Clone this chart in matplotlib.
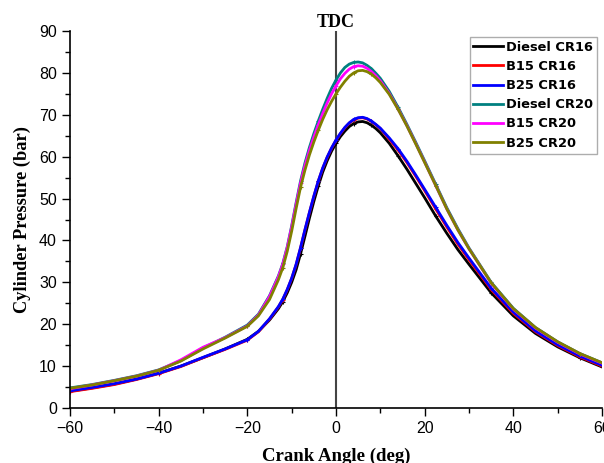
import matplotlib
matplotlib.use("Agg")
import matplotlib.pyplot as plt
from matplotlib.ticker import MultipleLocator

crank_angle = [-60, -55, -50, -45, -40, -35, -30, -25, -20, -17.5, -15, -13, -12, -11, -10, -9, -8,
               -7, -6, -5, -4, -3, -2, -1, 0, 1, 2, 3, 4, 5, 6, 7, 8, 9, 10, 12, 14, 16, 18, 20,
               22.5, 25, 27.5, 30, 35, 40, 45, 50, 55, 60]

diesel_cr16 = [4.0, 4.8, 5.7, 6.9, 8.3, 10.0, 12.0, 14.1, 16.4, 18.3, 21.0, 23.7, 25.4, 27.5, 30.0,
               33.0, 36.8, 41.0, 45.3, 49.3, 53.0, 56.3, 59.0, 61.3, 63.2, 64.8, 66.1, 67.2, 67.9,
               68.3, 68.4, 68.1, 67.5, 66.7, 65.7, 63.2, 60.2, 57.0, 53.6, 50.2, 45.8, 41.7, 37.8,
               34.3, 27.5, 22.0, 17.8, 14.6, 12.0, 9.8]
b15_cr16 = [3.9, 4.7, 5.6, 6.8, 8.2, 9.9, 12.0, 14.0, 16.2, 18.2, 21.2, 24.1, 25.9, 28.2, 30.9,
            34.2, 38.2, 42.5, 46.6, 50.5, 54.1, 57.2, 59.8, 62.0, 63.9, 65.5, 66.9, 68.0, 68.8,
            69.2, 69.3, 69.0, 68.4, 67.6, 66.7, 64.2, 61.6, 58.6, 55.3, 51.9, 47.5, 43.2, 39.1,
            35.4, 28.3, 22.6, 18.2, 14.9, 12.2, 10.0]
b25_cr16 = [4.1, 4.9, 5.8, 6.9, 8.3, 10.0, 12.1, 14.1, 16.3, 18.3, 21.3, 24.2, 26.0, 28.3, 31.0,
            34.3, 38.3, 42.6, 46.7, 50.6, 54.2, 57.3, 59.9, 62.1, 64.0, 65.6, 67.0, 68.1, 68.9,
            69.3, 69.4, 69.1, 68.5, 67.7, 66.8, 64.5, 61.9, 58.9, 55.6, 52.2, 47.9, 43.6, 39.5,
            35.8, 28.6, 22.9, 18.4, 15.1, 12.4, 10.2]
diesel_cr20 = [4.8, 5.6, 6.6, 7.7, 9.1, 11.3, 14.3, 16.9, 19.8, 22.4, 26.8, 31.5, 34.5, 38.5, 43.5,
               49.0, 54.2, 58.5, 62.2, 65.5, 68.5, 71.3, 73.9, 76.3, 78.3, 80.0, 81.3, 82.1, 82.5,
               82.6, 82.4, 81.8, 81.0, 79.9, 78.7, 75.6, 71.8, 67.7, 63.4, 59.0, 53.4, 47.8, 42.8,
               38.2, 30.0, 23.8, 19.2, 15.8, 13.0, 10.8]
b15_cr20 = [4.6, 5.5, 6.5, 7.6, 9.0, 11.5, 14.5, 16.8, 19.6, 22.2, 26.6, 31.3, 34.3, 38.3, 43.2,
            48.6, 53.7, 57.9, 61.5, 64.7, 67.6, 70.3, 72.8, 75.0, 76.9, 78.6, 79.9, 80.9, 81.5,
            81.7, 81.6, 81.1, 80.3, 79.3, 78.1, 75.1, 71.4, 67.4, 63.1, 58.7, 53.1, 47.5, 42.5,
            38.0, 29.8, 23.6, 19.1, 15.7, 12.9, 10.7]
b25_cr20 = [4.7, 5.5, 6.5, 7.6, 9.0, 11.2, 14.1, 16.7, 19.5, 22.0, 25.9, 30.6, 33.5, 37.4, 42.2,
            47.6, 52.7, 56.8, 60.4, 63.5, 66.3, 68.9, 71.2, 73.2, 75.0, 76.6, 78.0, 79.2, 80.0,
            80.5, 80.6, 80.3, 79.7, 78.8, 77.7, 74.9, 71.3, 67.3, 63.0, 58.6, 53.1, 47.5, 42.5,
            38.0, 29.9, 23.7, 19.2, 15.8, 13.0, 10.8]

series = [
    ("Diesel CR16", diesel_cr16, "#000000"),
    ("B15 CR16", b15_cr16, "#ff0000"),
    ("B25 CR16", b25_cr16, "#0000ff"),
    ("Diesel CR20", diesel_cr20, "#008080"),
    ("B15 CR20", b15_cr20, "#ff00ff"),
    ("B25 CR20", b25_cr20, "#808000"),
]

fig = plt.figure(figsize=(6.04, 4.63), dpi=100)
ax = fig.add_axes([70 / 604, (463 - 408) / 463, (602 - 70) / 604, (408 - 31) / 463])

for name, vals, col in series:
    ax.plot(crank_angle, vals, color=col, lw=2.0, label=name,
            marker="+", markersize=3, markevery=4, markeredgewidth=0.8)

ax.axvline(0, color="#444444", lw=1.5, zorder=0)

ax.set_xlim(-60, 60)
ax.set_ylim(0, 90)
ax.xaxis.set_major_locator(MultipleLocator(20))
ax.xaxis.set_minor_locator(MultipleLocator(10))
ax.yaxis.set_major_locator(MultipleLocator(10))
ax.yaxis.set_minor_locator(MultipleLocator(5))
ax.tick_params(which="major", direction="out", length=6, width=1, labelsize=11.5)
ax.tick_params(which="minor", direction="out", length=3.5, width=1)
for lab in ax.get_xticklabels() + ax.get_yticklabels():
    lab.set_fontfamily("Liberation Sans")

ax.spines["top"].set_visible(False)
ax.spines["right"].set_visible(False)
ax.spines["left"].set_linewidth(1.2)
ax.spines["bottom"].set_linewidth(1.2)

ax.set_xlabel("Crank Angle (deg)", fontfamily="Liberation Serif", fontweight="bold",
              fontsize=13.5, labelpad=8)
ax.set_ylabel("Cylinder Pressure (bar)", fontfamily="Liberation Serif", fontweight="bold",
              fontsize=13.2, labelpad=6)
ax.text(0, 90.9, "TDC", ha="center", va="baseline", fontfamily="Liberation Serif",
        fontweight="bold", fontsize=13)

leg = ax.legend(loc="upper right", bbox_to_anchor=((597 - 70) / 532, 1 - 6 / 377),
                frameon=True, fancybox=False, edgecolor="#999999", borderpad=0.3,
                handlelength=2.3, handletextpad=0.2, labelspacing=0.47, borderaxespad=0,
                prop={"family": "DejaVu Sans", "weight": "bold", "size": 9.4})
leg.get_frame().set_linewidth(1.0)
for h in leg.get_lines():
    h.set_marker("")

fig.savefig("out.png", dpi=100)
